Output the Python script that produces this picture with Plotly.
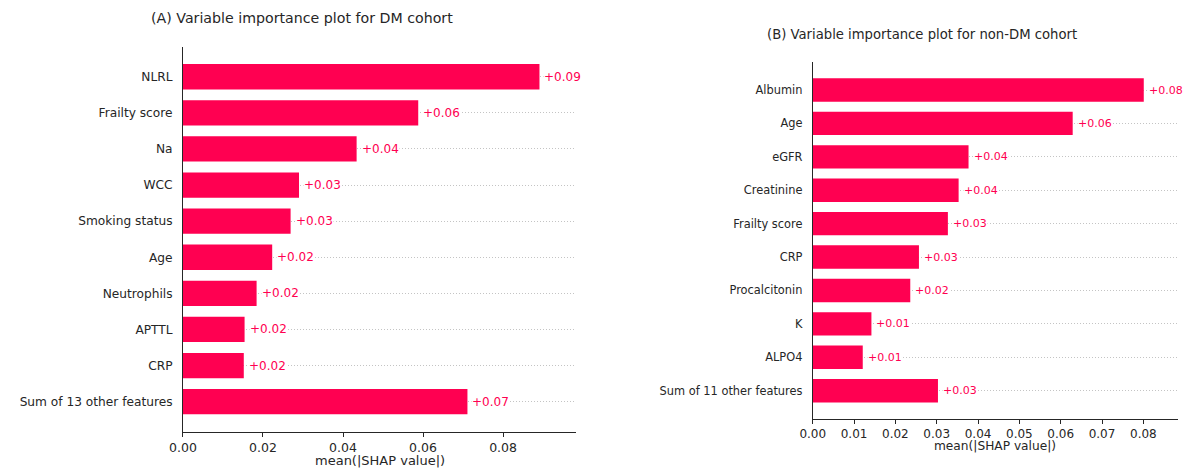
import plotly.graph_objects as go

# Mean absolute SHAP values per feature, most important first
dm_features = ["NLRL", "Frailty score", "Na", "WCC", "Smoking status", "Age",
               "Neutrophils", "APTTL", "CRP", "Sum of 13 other features"]
dm_values = [0.0891, 0.0588, 0.0434, 0.0290, 0.0269, 0.0223,
             0.0184, 0.0154, 0.0152, 0.0711]

non_dm_features = ["Albumin", "Age", "eGFR", "Creatinine", "Frailty score", "CRP",
                   "Procalcitonin", "K", "ALPO4", "Sum of 11 other features"]
non_dm_values = [0.0801, 0.0629, 0.0377, 0.0353, 0.0327, 0.0257,
                 0.0236, 0.0142, 0.0121, 0.0303]

dm_ticks = [0.00, 0.02, 0.04, 0.06, 0.08]
non_dm_ticks = [0.00, 0.01, 0.02, 0.03, 0.04, 0.05, 0.06, 0.07, 0.08]

dm_title = "(A) Variable importance plot for DM cohort"
non_dm_title = "(B) Variable importance plot for non-DM cohort"
x_title = "mean(|SHAP value|)"

W, H = 1184, 472
RED = "#FF0051"
INK = "#262626"
FONT = "DejaVu Sans"


def px_x(p):
    return p / W


def px_y(p):
    return 1 - p / H


fig = go.Figure()

panels = [
    dict(features=dm_features, values=dm_values, ticks=dm_ticks, xmax=0.0983,
         xa="x", ya="y", xdom=(171, 569), ydom=(46.6, 431.8),
         label_size=12.2, value_size=12, tick_size=12.5, title_size=13,
         title=dm_title, title_pos=(291, 18), head_size=14.2,
         xtitle_y=460),
    dict(features=non_dm_features, values=non_dm_values, ticks=non_dm_ticks, xmax=0.0884,
         xa="x2", ya="y2", xdom=(808.3, 1178), ydom=(62.1, 418.6),
         label_size=11.4, value_size=11, tick_size=12, title_size=12.2,
         title=non_dm_title, title_pos=(919, 34), head_size=13.2,
         xtitle_y=446),
]

annotations = []
layout_axes = {}
for i, p in enumerate(panels):
    n = len(p["features"])
    fig.add_trace(go.Bar(
        x=p["values"], y=p["features"], orientation="h",
        marker=dict(color=RED, line=dict(width=0)), width=0.7,
        xaxis=p["xa"], yaxis=p["ya"], showlegend=False,
        hovertemplate="%{y}: %{x:.4f}<extra></extra>",
    ))
    for f, v in zip(p["features"], p["values"]):
        annotations.append(dict(
            x=v, y=f, xref=p["xa"], yref=p["ya"], text=f"{v:+.2f}",
            showarrow=False, xanchor="left", yanchor="middle", xshift=4,
            bgcolor="white", borderpad=0,
            font=dict(family=FONT, size=p["value_size"], color=RED),
        ))
    suffix = "" if i == 0 else "2"
    layout_axes["xaxis" + suffix] = dict(
        domain=[px_x(p["xdom"][0]), px_x(p["xdom"][1])],
        range=[0, p["xmax"]], anchor="y" + suffix,
        tickvals=p["ticks"], ticktext=[f"{t:.2f}" for t in p["ticks"]],
        ticks="outside", ticklen=4, tickwidth=1, tickcolor=INK,
        showline=True, linecolor=INK, linewidth=1,
        showgrid=False, zeroline=False,
        tickfont=dict(family=FONT, size=p["tick_size"], color=INK),
    )
    layout_axes["yaxis" + suffix] = dict(
        domain=[px_y(p["ydom"][1]), px_y(p["ydom"][0])],
        type="category", categoryorder="array", categoryarray=p["features"],
        range=[n - 1 + 0.835, -0.835], anchor="x" + suffix,
        showline=True, linecolor=INK, linewidth=1,
        ticks="", ticklabelstandoff=7,
        showgrid=True, gridcolor="#c4c4c4", gridwidth=1, griddash="1px,2px",
        zeroline=False,
        tickfont=dict(family=FONT, size=p["label_size"], color=INK),
    )
    # panel heading
    annotations.append(dict(
        x=px_x(p["title_pos"][0]), y=px_y(p["title_pos"][1]),
        xref="paper", yref="paper", text=p["title"], showarrow=False,
        xanchor="center", yanchor="middle",
        font=dict(family=FONT, size=p["head_size"], color=INK),
    ))
    # x-axis title
    annotations.append(dict(
        x=px_x((p["xdom"][0] + p["xdom"][1]) / 2), y=px_y(p["xtitle_y"]),
        xref="paper", yref="paper", text=x_title, showarrow=False,
        xanchor="center", yanchor="middle",
        font=dict(family=FONT, size=p["title_size"], color=INK),
    ))

fig.update_layout(
    width=W, height=H,
    margin=dict(l=0, r=0, t=0, b=0),
    paper_bgcolor="white", plot_bgcolor="white",
    bargap=0.3,
    annotations=annotations,
    **layout_axes,
)

fig.write_html("out.html")
